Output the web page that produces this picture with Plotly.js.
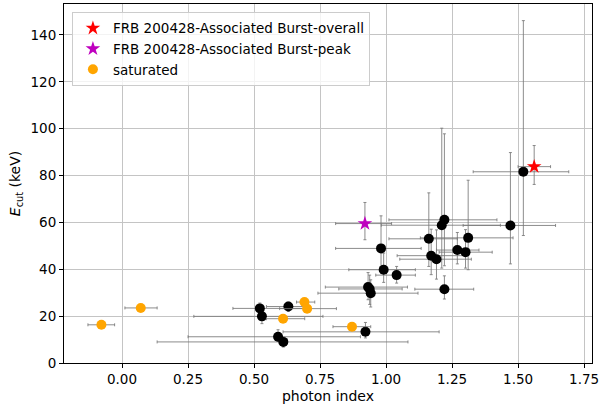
<!DOCTYPE html>
<html>
<head>
<meta charset="utf-8">
<script src="https://cdn.plot.ly/plotly-3.0.1.min.js"></script>
<style>html,body{margin:0;padding:0;background:#fff;}#chart{width:600px;height:406px;}</style>
</head>
<body>
<div id="chart"></div>
<script>
// Black (regular bursts)
const blackX   = [0.522, 0.630, 0.530, 0.591, 0.611, 0.922, 0.932, 0.938, 0.942, 0.981, 0.991, 1.040, 1.162, 1.171, 1.191, 1.211, 1.221, 1.221, 1.270, 1.301, 1.311, 1.471, 1.520];
const blackY   = [23.3, 24.1, 19.9, 11.2, 9.0, 13.3, 32.4, 31.6, 29.8, 48.9, 39.8, 37.5, 53.0, 45.8, 44.3, 58.8, 61.1, 31.5, 48.2, 47.3, 53.4, 58.7, 81.6];
const blackXlo = [0.420, 0.547, 0.272, 0.250, 0.133, 0.610, 0.770, 0.821, 0.742, 0.809, 0.859, 0.961, 1.011, 1.042, 1.052, 0.982, 1.011, 1.109, 1.191, 1.201, 1.130, 1.292, 1.330];
const blackXhi = [0.700, 0.700, 0.761, 0.903, 1.083, 1.201, 1.081, 1.061, 1.121, 1.133, 1.111, 1.111, 1.270, 1.298, 1.323, 1.433, 1.420, 1.332, 1.352, 1.402, 1.481, 1.642, 1.692];
const blackYlo = [21.3, 22.0, 16.8, 9.2, 6.8, 10.7, 27.0, 25.0, 23.9, 41.0, 34.4, 34.1, 41.2, 37.7, 35.8, 40.5, 41.5, 27.3, 42.3, 40.5, 39.8, 42.3, 54.4];
const blackYhi = [25.6, 26.0, 22.0, 14.2, 11.1, 17.3, 38.6, 37.5, 35.5, 62.8, 46.9, 41.2, 72.6, 57.1, 56.8, 100.2, 97.8, 37.2, 55.7, 56.9, 78.0, 89.8, 146.1];

// Saturated (orange)
const satX   = [-0.078, 0.071, 0.610, 0.691, 0.701, 0.871];
const satY   = [16.3, 23.5, 18.9, 26.0, 23.2, 15.5];
const satXlo = [-0.129, 0.011, 0.547, 0.661, 0.597, 0.799];
const satXhi = [-0.028, 0.133, 0.692, 0.730, 0.812, 0.942];

// FRB 200428-associated burst
const overallX = [1.561], overallY = [83.8], overallXlo = [1.500], overallXhi = [1.623], overallYlo = [76.2], overallYhi = [92.8];
const peakX = [0.920], peakY = [59.5], peakXlo = [0.809], peakXhi = [1.021], peakYlo = [52.6], peakYhi = [68.5];

const xTicks = [0, 0.25, 0.5, 0.75, 1.0, 1.25, 1.5, 1.75];
const yTicks = [0, 20, 40, 60, 80, 100, 120, 140];

const ecol = 'rgba(120,120,120,0.85)';
function ex(x, lo, hi){ return {type:'data', symmetric:false, array:x.map((v,i)=>hi[i]-v), arrayminus:x.map((v,i)=>v-lo[i]), color:ecol, thickness:1, width:1.5}; }
function ey(y, lo, hi){ return {type:'data', symmetric:false, array:y.map((v,i)=>hi[i]-v), arrayminus:y.map((v,i)=>v-lo[i]), color:ecol, thickness:1, width:1.5}; }

const traces = [
  {x: blackX, y: blackY, mode:'markers', type:'scatter', showlegend:false,
   marker:{color:'black', size:10}, error_x: ex(blackX, blackXlo, blackXhi), error_y: ey(blackY, blackYlo, blackYhi)},
  {x: overallX, y: overallY, mode:'markers', type:'scatter', name:'FRB 200428-Associated Burst-overall',
   marker:{color:'red', size:11, symbol:'star'}, error_x: ex(overallX, overallXlo, overallXhi), error_y: ey(overallY, overallYlo, overallYhi)},
  {x: peakX, y: peakY, mode:'markers', type:'scatter', name:'FRB 200428-Associated Burst-peak',
   marker:{color:'#bf00bf', size:11, symbol:'star'}, error_x: ex(peakX, peakXlo, peakXhi), error_y: ey(peakY, peakYlo, peakYhi)},
  {x: satX, y: satY, mode:'markers', type:'scatter', name:'saturated',
   marker:{color:'orange', size:10}, error_x: ex(satX, satXlo, satXhi)}
];

const font = {family:'DejaVu Sans', size:13.5, color:'black'};
const layout = {
  width:600, height:406,
  margin:{l:64, r:8, t:4, b:43},
  paper_bgcolor:'white', plot_bgcolor:'white',
  font: font,
  showlegend:true,
  legend:{x:0.015, y:0.978, xanchor:'left', yanchor:'top', bgcolor:'rgba(255,255,255,0.8)',
          bordercolor:'#cccccc', borderwidth:1, font:{family:'DejaVu Sans', size:13.5, color:'black'}, tracegroupgap:0},
  xaxis:{range:[-0.2197, 1.780], tickvals:xTicks, tickformat:'.2f', showgrid:true, gridcolor:'#c4c4c4', gridwidth:1,
         zeroline:false, showline:true, mirror:true, linecolor:'black', linewidth:1, ticks:'outside', ticklen:4, tickcolor:'black',
         title:{text:'photon index', font:{family:'DejaVu Sans', size:14}, standoff:4}, automargin:false},
  yaxis:{range:[0, 153.2], tickvals:yTicks, showgrid:true, gridcolor:'#c4c4c4', gridwidth:1,
         zeroline:false, showline:true, mirror:true, linecolor:'black', linewidth:1, ticks:'outside', ticklen:4, tickcolor:'black',
         title:{text:'<i>E</i><sub>cut</sub> (keV)', font:{family:'DejaVu Sans', size:14}, standoff:6}, automargin:false}
};

Plotly.newPlot('chart', traces, layout, {staticPlot:true, displayModeBar:false});
</script>
</body>
</html>
